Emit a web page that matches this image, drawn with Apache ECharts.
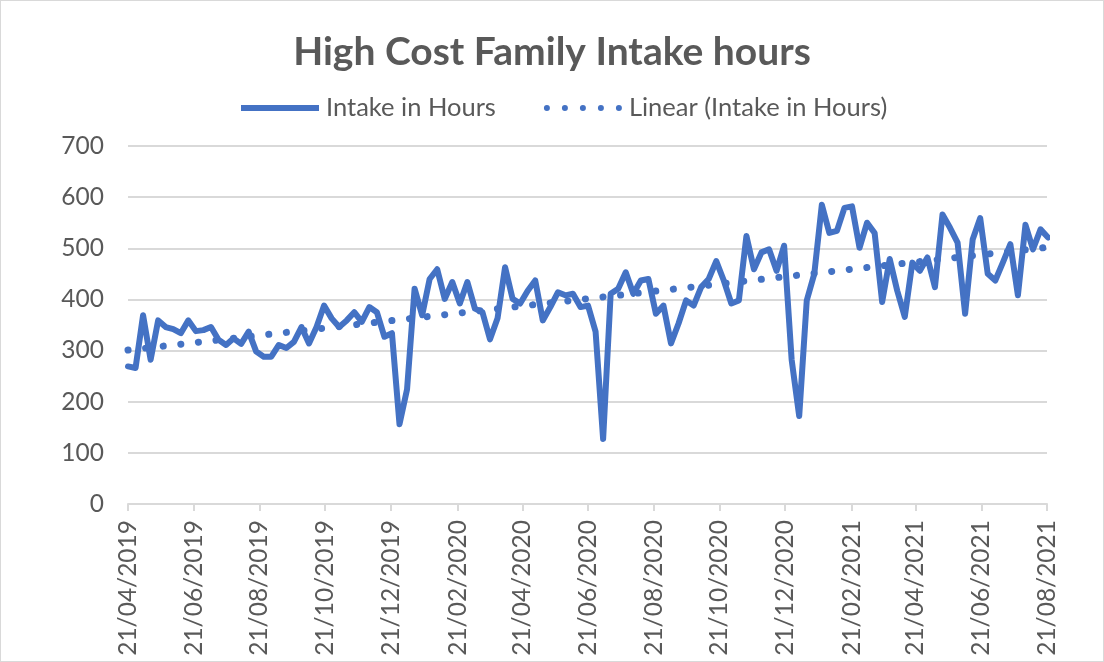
<!DOCTYPE html>
<html>
<head>
<meta charset="utf-8">
<script src="https://cdn.jsdelivr.net/npm/echarts@6/dist/echarts.min.js"></script>
<style>
  html, body { margin: 0; padding: 0; background: #fff; }
  #chart { width: 1104px; height: 662px; box-sizing: border-box; border: 1px solid #D9D9D9; }
</style>
</head>
<body>
<div id="chart"></div>
<script>
// ---- Data ----
const title = 'High Cost Family Intake hours';
const seriesName = 'Intake in Hours';
const trendName = 'Linear (Intake in Hours)';
const startDate = [2019, 4, 21];   // first weekly reading (y, m, d)
const stepDays = 7;                // weekly readings
const tickLabels = ['21/04/2019','21/06/2019','21/08/2019','21/10/2019','21/12/2019','21/02/2020',
  '21/04/2020','21/06/2020','21/08/2020','21/10/2020','21/12/2020','21/02/2021','21/04/2021',
  '21/06/2021','21/08/2021'];
const intakeHours = [
  269, 266, 369, 282, 359, 346, 342, 334, 359, 338,
  340, 346, 321, 311, 324, 313, 337, 298, 288, 288,
  311, 305, 317, 346, 314, 346, 388, 363, 346, 359,
  375, 356, 385, 375, 327, 334, 156, 224, 421, 369,
  440, 459, 401, 434, 392, 434, 382, 375, 322, 363,
  463, 401, 392, 417, 437, 359, 385, 414, 408, 411,
  385, 388, 337, 127, 411, 421, 453, 411, 437, 440,
  372, 388, 314, 353, 398, 388, 424, 440, 475, 437,
  392, 398, 524, 459, 492, 498, 456, 505, 282, 172,
  398, 450, 585, 530, 534, 579, 582, 501, 550, 530,
  395, 479, 417, 366, 472, 456, 482, 424, 566, 540,
  511, 372, 517, 559, 450, 437, 472, 508, 408, 546,
  498, 537, 521
];
const yTicks = [0, 100, 200, 300, 400, 500, 600, 700];

// ---- Build ----
const DAY = 86400000;
const t0 = Date.UTC(startDate[0], startDate[1] - 1, startDate[2]);
function labelToDay(s) { const p = s.split('/').map(Number); return Math.round((Date.UTC(p[2], p[1] - 1, p[0]) - t0) / DAY); }
const tickDays = tickLabels.map(labelToDay);
const dayToLabel = {};
tickLabels.forEach((s, i) => { dayToLabel[tickDays[i]] = s; });
const mainData = intakeHours.map((v, i) => [i * stepDays, v]);

// least-squares linear trend (Excel "Linear" trendline)
const n = intakeHours.length;
let sx = 0, sy = 0, sxx = 0, sxy = 0;
intakeHours.forEach((v, i) => { sx += i; sy += v; sxx += i * i; sxy += i * v; });
const slope = (n * sxy - sx * sy) / (n * sxx - sx * sx);
const intercept = (sy - slope * sx) / n;
const trendData = intakeHours.map((v, i) => [i * stepDays, intercept + slope * i]);

const FONT = 'Lato';
const TXT = '#595959';
const BLUE = '#4472C4';
const GRID = '#D9D9D9';

// legend icons: solid bar, and five round dots
const dotIcon = 'path://' + [0, 1, 2, 3, 4].map(k => {
  const cx = 3 + k * 18;
  return 'M' + (cx - 3) + ',3a3,3 0 1,0 6,0a3,3 0 1,0 -6,0Z';
}).join('');

const chart = echarts.init(document.getElementById('chart'), null, { renderer: 'canvas' });
chart.setOption({
  animation: false,
  backgroundColor: '#fff',
  title: {
    text: title, left: 'center', top: 27,
    textStyle: { fontFamily: FONT, fontSize: 39, fontWeight: 'bold', color: TXT }
  },
  legend: {
    left: 235, top: 89, itemGap: 48, itemWidth: 78, itemHeight: 6,
    textStyle: { fontFamily: FONT, fontSize: 25.5, color: TXT, padding: [0, 0, 0, 2] },
    data: [
      { name: seriesName, icon: 'rect', itemStyle: { color: BLUE } },
      { name: trendName, icon: dotIcon, itemStyle: { color: BLUE } }
    ]
  },
  grid: { left: 127, right: 56, top: 145, bottom: 157 },
  xAxis: {
    type: 'value',
    min: tickDays[0], max: tickDays[tickDays.length - 1],
    axisLine: { show: true, onZero: false, lineStyle: { color: GRID, width: 2 } },
    axisTick: { show: true, length: 7, lineStyle: { color: GRID, width: 2 }, customValues: tickDays },
    axisLabel: {
      customValues: tickDays, rotate: 90, margin: 16,
      fontFamily: FONT, fontSize: 24.5, color: TXT,
      formatter: v => dayToLabel[Math.round(v)] || ''
    },
    splitLine: { show: false }
  },
  yAxis: {
    type: 'value', min: yTicks[0], max: yTicks[yTicks.length - 1], interval: 100,
    axisLine: { show: false }, axisTick: { show: false },
    axisLabel: { fontFamily: FONT, fontSize: 24.5, color: TXT, margin: 24 },
    splitLine: { lineStyle: { color: GRID, width: 2 } }
  },
  series: [
    {
      name: seriesName, type: 'line', data: mainData, symbol: 'none', z: 3,
      lineStyle: { color: BLUE, width: 6, cap: 'round', join: 'round' },
      itemStyle: { color: BLUE }
    },
    {
      name: trendName, type: 'line', data: trendData, symbol: 'none', z: 2,
      lineStyle: { color: BLUE, width: 7, type: [0.1, 17.6], cap: 'round' },
      itemStyle: { color: BLUE }
    }
  ]
});
</script>
</body>
</html>
